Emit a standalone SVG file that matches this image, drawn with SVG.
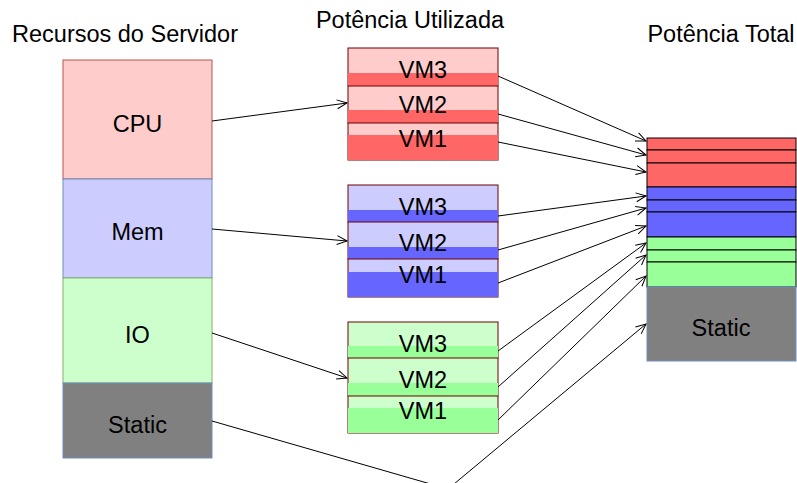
<svg xmlns="http://www.w3.org/2000/svg" width="797" height="483" viewBox="0 0 797 483">
<defs>
<style>
text{font-family:"Liberation Sans",Arial,Helvetica,sans-serif;font-size:23.5px;fill:#000;text-anchor:middle}
.lr{fill:#ffcccc;stroke:#6f0000;stroke-width:1}
.lb{fill:#ccccff;stroke:#6f0000;stroke-width:1}
.lg{fill:#ccffcc;stroke:#6f0000;stroke-width:1}
.dr{fill:#ff6666}
.db{fill:#6666ff}
.dg{fill:#99ff99}
.br{fill:#ff6666;stroke:#000;stroke-width:1}
.bb{fill:#6666ff;stroke:#000;stroke-width:1}
.bg{fill:#99ff99;stroke:#000;stroke-width:1}
.conn{fill:none;stroke:#000;stroke-width:1;marker-end:url(#arr)}
</style>
<marker id="arr" markerUnits="userSpaceOnUse" markerWidth="14" markerHeight="12" refX="11" refY="5" orient="auto" overflow="visible">
<path d="M1,0.5 L11,5 L1,9.5" fill="none" stroke="#000" stroke-width="1"/>
</marker>
</defs>
<rect width="797" height="483" fill="#fff"/>
<text x="125" y="42">Recursos do Servidor</text>
<text x="410" y="28">Potência Utilizada</text>
<text x="721" y="42">Potência Total</text>
<g id="cpu"><rect x="63" y="60" width="149" height="119" fill="#ffcccc" stroke="#b85450"/><text x="137.5" y="132">CPU</text></g>
<g id="mem"><rect x="63" y="179" width="149" height="99" fill="#ccccff" stroke="#6c8ebf"/><text x="137.5" y="240">Mem</text></g>
<g id="io"><rect x="63" y="278" width="149" height="105" fill="#ccffcc" stroke="#82b366"/><text x="137.5" y="343">IO</text></g>
<g id="static"><rect x="63" y="383" width="149" height="75" fill="#808080" stroke="#6c8ebf"/><text x="137.5" y="433">Static</text></g>
<g id="cpu-vms">
<rect class="lr" x="348" y="48" width="150" height="38"/><rect class="dr" x="348" y="73" width="150" height="13"/><text x="423" y="78">VM3</text>
<rect class="lr" x="348" y="86" width="150" height="37"/><rect class="dr" x="348" y="110" width="150" height="13"/><text x="423" y="113">VM2</text>
<rect class="lr" x="348" y="123" width="150" height="37"/><rect class="dr" x="348" y="135" width="150" height="25"/><text x="423" y="147">VM1</text>
</g>
<g id="mem-vms">
<rect class="lb" x="348" y="185" width="150" height="37"/><rect class="db" x="348" y="210" width="150" height="12"/><text x="423" y="215">VM3</text>
<rect class="lb" x="348" y="222" width="150" height="37"/><rect class="db" x="348" y="247" width="150" height="12"/><text x="423" y="251">VM2</text>
<rect class="lb" x="348" y="259" width="150" height="38"/><rect class="db" x="348" y="272" width="150" height="25"/><text x="423" y="283">VM1</text>
</g>
<g id="io-vms">
<rect class="lg" x="348" y="322" width="150" height="36"/><rect class="dg" x="348" y="346" width="150" height="12"/><text x="423" y="352">VM3</text>
<rect class="lg" x="348" y="358" width="150" height="38"/><rect class="dg" x="348" y="383" width="150" height="13"/><text x="423" y="388">VM2</text>
<rect class="lg" x="348" y="396" width="150" height="37"/><rect class="dg" x="348" y="408" width="150" height="25"/><text x="423" y="419">VM1</text>
</g>
<g id="total">
<rect class="br" x="647" y="138" width="149" height="12"/>
<rect class="br" x="647" y="150" width="149" height="13"/>
<rect class="br" x="647" y="163" width="149" height="24"/>
<rect class="bb" x="647" y="187" width="149" height="13"/>
<rect class="bb" x="647" y="200" width="149" height="12"/>
<rect class="bb" x="647" y="212" width="149" height="25"/>
<rect class="bg" x="647" y="237" width="149" height="13"/>
<rect class="bg" x="647" y="250" width="149" height="12"/>
<rect class="bg" x="647" y="262" width="149" height="25"/>
<rect x="647" y="287" width="149" height="74" fill="#808080" stroke="#6c8ebf"/>
<text x="721" y="336">Static</text>
</g>
<g id="connectors">
<path class="conn" d="M212,121 L347,103"/>
<path class="conn" d="M212,229 L347,241"/>
<path class="conn" d="M212,333 L347,378"/>
<path class="conn" d="M212,421 L448,489 L646,324"/>
<path class="conn" d="M498,76 L646,141"/>
<path class="conn" d="M498,114 L646,155"/>
<path class="conn" d="M498,142 L646,172"/>
<path class="conn" d="M498,216 L646,196"/>
<path class="conn" d="M498,250 L646,208"/>
<path class="conn" d="M498,283 L646,226"/>
<path class="conn" d="M498,351 L646,243"/>
<path class="conn" d="M498,387 L646,255"/>
<path class="conn" d="M498,420 L646,276"/>
</g>
</svg>
